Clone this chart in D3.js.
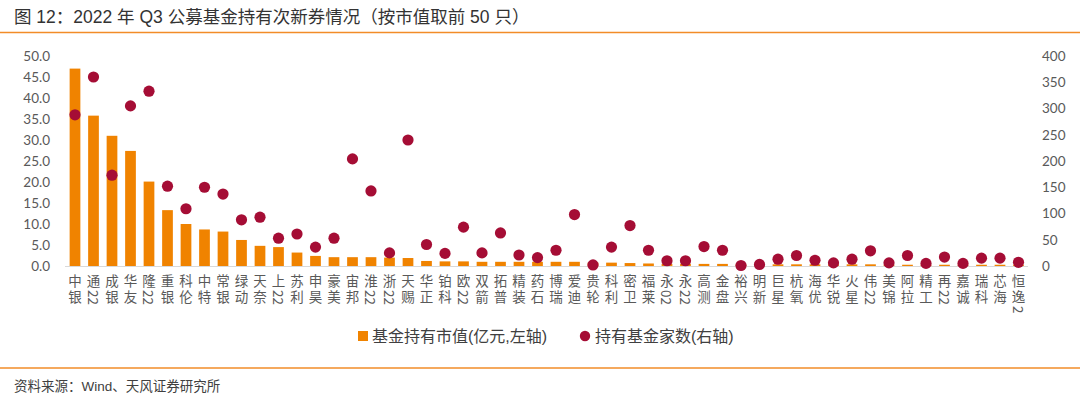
<!DOCTYPE html>
<html><head><meta charset="utf-8">
<script src="https://cdn.jsdelivr.net/npm/d3@7"></script>
<style>
html,body{margin:0;padding:0;background:#fff;}
svg{display:block;}
.xl{writing-mode:vertical-rl;text-orientation:mixed;}
</style></head>
<body>
<svg id="c" width="1080" height="398"></svg>
<script>
const categories = ["中银","通22","成银","华友","隆22","重银","科伦","中特","常银","绿动","天奈","上22","苏利","申昊","豪美","宙邦","淮22","浙22","天赐","华正","铂科","欧22","双箭","拓普","精装","药石","博瑞","爱迪","贵轮","科利","密卫","福莱","永02","永22","高测","金盘","裕兴","明新","巨星","杭氧","海优","华锐","火星","伟22","美锦","阿拉","精工","再22","嘉诚","瑞科","芯海","恒逸2"];
const marketValue = [47.0,35.8,31.0,27.4,20.1,13.3,10.0,8.7,8.2,6.2,4.8,4.5,3.2,2.4,2.1,2.1,2.1,2.0,1.9,1.2,1.1,1.1,1.0,1.0,1.0,1.0,1.0,1.0,0.8,0.8,0.7,0.6,0.5,0.5,0.5,0.5,0.4,0.4,0.4,0.4,0.4,0.4,0.4,0.4,0.3,0.3,0.3,0.3,0.3,0.3,0.3,0.3];
const fundCount = [288,360,173,305,333,152,109,150,137,88,93,53,61,36,53,204,143,25,240,41,24,74,25,63,21,16,30,98,2,36,77,30,10,10,37,30,1,3,13,20,11,6,13,29,6,20,5,17,5,15,15,7];
const leftTicks = [0,5,10,15,20,25,30,35,40,45,50];
const rightTicks = [0,50,100,150,200,250,300,350,400];
const titleText = "图 12：2022 年 Q3 公募基金持有次新券情况（按市值取前 50 只）";
const legendLabels = ["基金持有市值(亿元,左轴)","持有基金家数(右轴)"];
const sourceText = "资料来源：Wind、天风证券研究所";

const ORANGE = "#F08300", RED = "#A50D35", LINE = "#F28C28";
const CJK = "'Liberation Sans','Noto Sans CJK SC',sans-serif";
const svg = d3.select("#c");

// title + rules
svg.append("text").attr("x",14).attr("y",23).attr("font-family",CJK).attr("font-size",17.5)
  .attr("fill","#333").text(titleText);
svg.append("line").attr("x1",0).attr("x2",1080).attr("y1",32.5).attr("y2",32.5).attr("stroke",LINE).attr("stroke-width",1.5);
svg.append("line").attr("x1",0).attr("x2",1080).attr("y1",368).attr("y2",368).attr("stroke",LINE).attr("stroke-width",1.5);
svg.append("text").attr("x",14).attr("y",391).attr("font-family",CJK).attr("font-size",13.5)
  .attr("fill","#404040").text(sourceText);

const x = d3.scaleBand().domain(categories).range([65.75,1027.75]).paddingInner(0.42).paddingOuter(0.21);
const yL = d3.scaleLinear().domain([0,50]).range([266,56]);
const yR = d3.scaleLinear().domain([0,400]).range([266,56]);

// left axis
const axL = svg.append("g").attr("transform","translate(60,0)")
  .call(d3.axisLeft(yL).tickValues(leftTicks).tickFormat(d3.format(".1f")).tickSize(0).tickPadding(10));
axL.select(".domain").remove();
axL.selectAll("text").attr("font-family","Lato, 'Liberation Sans', sans-serif").attr("font-size",13.5).attr("fill","#595959");

const axR = svg.append("g").attr("transform","translate(1032,0)")
  .call(d3.axisRight(yR).tickValues(rightTicks).tickSize(0).tickPadding(10));
axR.select(".domain").remove();
axR.selectAll("text").attr("font-family","Lato, 'Liberation Sans', sans-serif").attr("font-size",13.5).attr("fill","#595959");

// bars
svg.append("g").selectAll("rect").data(categories).join("rect")
  .attr("x",d=>x(d)).attr("width",x.bandwidth())
  .attr("y",(d,i)=>yL(marketValue[i])).attr("height",(d,i)=>yL(0)-yL(marketValue[i]))
  .attr("fill",ORANGE);

// baseline
svg.append("line").attr("x1",65).attr("x2",1028).attr("y1",266.5).attr("y2",266.5).attr("stroke","#d9d9d9").attr("stroke-width",1.2);

// dots
svg.append("g").selectAll("circle").data(categories).join("circle")
  .attr("cx",d=>x(d)+x.bandwidth()/2).attr("cy",(d,i)=>yR(fundCount[i])).attr("r",5.6)
  .attr("fill",RED);

// x labels: vertical writing, CJK upright, digits rotated (tight)
svg.append("g").selectAll("text").data(categories).join("text")
  .attr("class","xl")
  .attr("x",d=>x(d)+x.bandwidth()/2).attr("y",274)
  .attr("font-family","'Noto Sans CJK SC',sans-serif").attr("font-size",13.5)
  .attr("fill","#595959")
  .each(function(d){
    const t = d3.select(this);
    d.match(/[0-9]+|[^0-9]+/g).forEach(seg=>{
      const digits = /^[0-9]+$/.test(seg);
      t.append("tspan").attr("letter-spacing",digits?0:2.5).text(seg);
    });
  });

// legend
const lg = svg.append("g").attr("font-family",CJK).attr("font-size",16).attr("fill","#404040");
lg.append("rect").attr("x",358).attr("y",331).attr("width",10).attr("height",10).attr("fill",ORANGE);
lg.append("text").attr("x",372).attr("y",336).attr("dominant-baseline","central").text(legendLabels[0]);
lg.append("circle").attr("cx",585).attr("cy",336).attr("r",5.2).attr("fill",RED);
lg.append("text").attr("x",595).attr("y",336).attr("dominant-baseline","central").text(legendLabels[1]);
</script>
</body></html>
